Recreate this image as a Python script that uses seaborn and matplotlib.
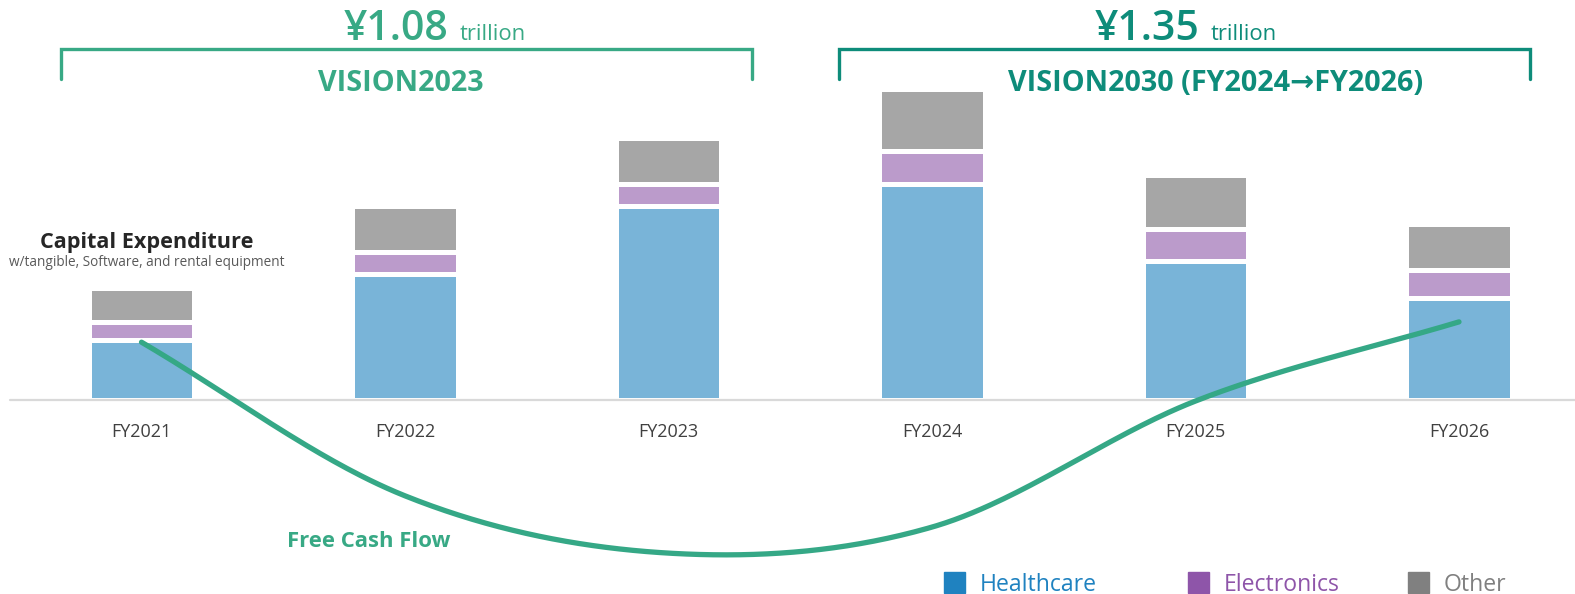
import numpy as np
import pandas as pd
import matplotlib
matplotlib.use("Agg")
import matplotlib.pyplot as plt
from matplotlib.patches import Rectangle
import seaborn as sns

# capex by segment, billion yen
years = ["FY2021", "FY2022", "FY2023", "FY2024", "FY2025", "FY2026"]
healthcare = [116, 241, 372, 414, 266, 195]
electronics = [33, 44, 42, 65, 63, 54]
other = [66, 87, 89, 118, 103, 89]
# free cash flow, billion yen
fcf = [111, -184, -294, -244, -2, 150]

legend_labels = ["Healthcare", "Electronics", "Other"]
bar_colors = ["#79b4d8", "#bb9bcb", "#a6a6a6"]
legend_colors = ["#1f82c0", "#8e55a9", "#808080"]
teal = "#38a985"
teal_dark = "#0e8c7a"

df = pd.DataFrame({"year": years, "hc": healthcare, "el": electronics, "ot": other})
df["hc_el"] = df["hc"] + df["el"]
df["total"] = df["hc_el"] + df["ot"]

sns.set_theme(style="white")
plt.rcParams["font.family"] = ["Open Sans", "DejaVu Sans"]

W, H = 1575, 594
fig = plt.figure(figsize=(W / 100, H / 100), dpi=100)
ax = fig.add_axes([0, 0, 1, 1])

def fx(px):
    return px / W

def fy(py):
    return 1 - py / H

# stacked bars: draw cumulative totals back to front, white edges make the gaps
bw = 0.402
for col, c in zip(["total", "hc_el", "hc"], bar_colors[::-1]):
    sns.barplot(data=df, x="year", y=col, order=years, color=c, saturation=1,
                width=bw, edgecolor="white", linewidth=3.6, ax=ax)

# smoothed free cash flow line (excel style smoothing)
def smooth(y, n=60):
    y = np.asarray(y, float)
    m = np.zeros_like(y)
    m[1:-1] = (y[2:] - y[:-2]) / 2
    m[0] = y[1] - y[0]
    m[-1] = y[-1] - y[-2]
    xs, ys = [], []
    for i in range(len(y) - 1):
        t = np.linspace(0, 1, n)
        h00 = 2 * t**3 - 3 * t**2 + 1
        h10 = t**3 - 2 * t**2 + t
        h01 = -2 * t**3 + 3 * t**2
        h11 = t**3 - t**2
        xs.append(i + t)
        ys.append(h00 * y[i] + h10 * m[i] + h01 * y[i + 1] + h11 * m[i + 1])
    return np.concatenate(xs), np.concatenate(ys)

sx, sy = smooth(fcf)
ax.plot(sx, sy, color="#35a886", lw=3.8, solid_capstyle="round", zorder=5)

ax.axhline(0, xmin=fx(10), xmax=1, color="#d9d9d9", lw=1.6, zorder=1)

ax.set_xlim(-141.5 / 263.5, (W - 141.5) / 263.5)
ax.set_ylim(-372.5, 768)
ax.axis("off")

# category labels
for i, yr in enumerate(years):
    ax.text(i, -(437 - 400) * 1.92, yr, ha="center", va="baseline",
            fontsize=13, color="#404040")

# titles and brackets
ax.text(fx(147), fy(248), "Capital Expenditure", ha="center", va="baseline",
        fontsize=15.6, fontweight="bold", color="#262626", transform=ax.transAxes)
ax.text(fx(147), fy(266), "w/tangible, Software, and rental equipment", ha="center",
        va="baseline", fontsize=9.8, color="#595959", transform=ax.transAxes)

ax.text(fx(369), fy(547), "Free Cash Flow", ha="center", va="baseline",
        fontsize=15.9, fontweight="bold", color=teal, transform=ax.transAxes)

for (x0, x1, col, amount, tx, vis, vx) in [
    (61, 752, teal, "¥1.08", 344, "VISION2023", 401),
    (839, 1530, teal_dark, "¥1.35", 1095, "VISION2030 (FY2024→FY2026)", 1216),
]:
    ax.plot([fx(x0), fx(x0), fx(x1), fx(x1)], [fy(79), fy(49), fy(49), fy(79)],
            color=col, lw=2.4, transform=ax.transAxes, solid_joinstyle="miter")
    ax.text(fx(tx), fy(40), amount, ha="left", va="baseline", fontsize=29.5,
            fontweight="semibold", color=col, transform=ax.transAxes)
    ax.text(fx(tx + 116), fy(40), "trillion", ha="left", va="baseline", fontsize=15.8,
            color=col, transform=ax.transAxes)
    ax.text(fx(vx), fy(91), vis, ha="center", va="baseline", fontsize=20.7,
            fontweight="bold", color=col, transform=ax.transAxes)

# legend
for lab, c, x0 in zip(legend_labels, legend_colors, [944, 1188, 1408]):
    ax.add_patch(Rectangle((fx(x0), fy(593)), fx(21), 21 / H, color=c,
                           transform=ax.transAxes, clip_on=False))
    ax.text(fx(x0 + 36), fy(591), lab, ha="left", va="baseline", fontsize=16.6,
            color=c, transform=ax.transAxes)

fig.savefig("out.png", dpi=100)
